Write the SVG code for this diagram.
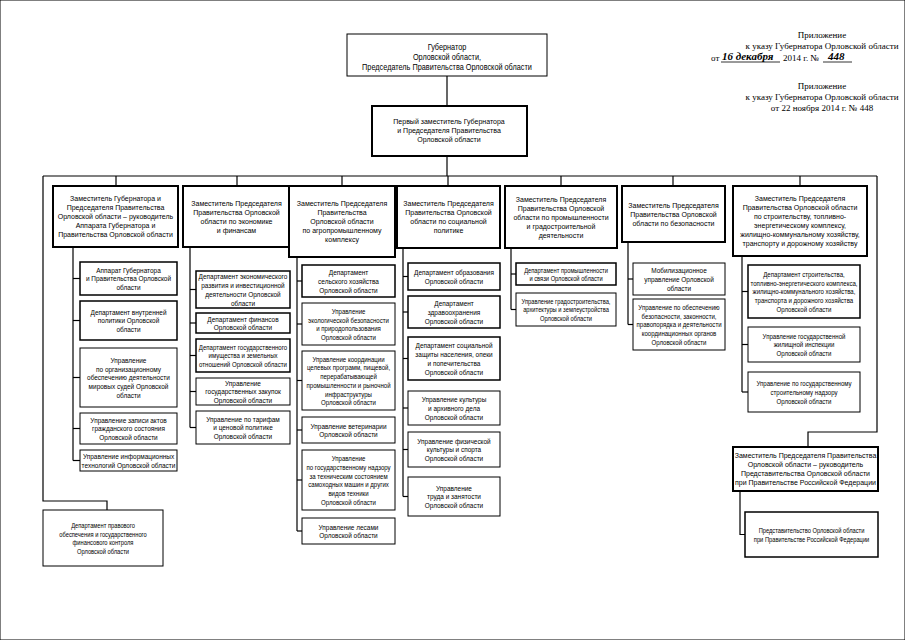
<svg xmlns="http://www.w3.org/2000/svg" width="905" height="640" viewBox="0 0 905 640">
<style>
text{font-family:"Liberation Sans",Arial,sans-serif;font-size:7.6px;fill:#000;text-anchor:middle;transform-box:fill-box;transform-origin:center;transform:scaleX(0.85)}
.hd text{font-size:7.8px;transform:scaleX(0.9)}
.gv text{font-size:8.6px;transform:scaleX(0.85)}
.sm text{font-size:7.2px;transform:scaleX(0.8)}
.n8 text{transform:scaleX(0.8)}
#appendix text{font-family:"Liberation Serif","Times New Roman",serif;font-size:9px;transform:none}
#appendix .hw{font-style:italic;font-weight:bold;font-size:11px;text-anchor:start}
#appendix .st{text-anchor:start}
rect{fill:#fff;stroke:#000}
.hd rect{stroke-width:2}
.d rect{stroke-width:1.5}
.u rect{stroke-width:1}
#connectors line,#connectors polyline{stroke:#000;stroke-width:1.2;fill:none}
</style>
<rect width="905" height="640" fill="#fff" stroke="none"/>
<g id="appendix">
<text x="822" y="38">Приложение</text>
<text x="822" y="49">к указу Губернатора Орловской области</text>
<text class="st" x="711" y="61">от</text>
<line x1="721" y1="62" x2="780" y2="62" stroke="#000" stroke-width="0.8"/>
<text class="hw" x="722" y="60">16 декабря</text>
<text class="st" x="783" y="61">2014 г. №</text>
<line x1="823" y1="62" x2="852" y2="62" stroke="#000" stroke-width="0.8"/>
<text class="hw" x="828" y="60">448</text>
<text x="822" y="89">Приложение</text>
<text x="822" y="100">к указу Губернатора Орловской области</text>
<text x="822" y="111">от 22 ноября 2014 г. № 448</text>
</g>
<g id="connectors">
<line x1="447" y1="76" x2="447" y2="106"/>
<line x1="447" y1="156" x2="447" y2="176"/>
<line x1="43" y1="176" x2="877" y2="176"/>
<line x1="116" y1="176" x2="116" y2="186"/>
<line x1="237" y1="176" x2="237" y2="186"/>
<line x1="342" y1="176" x2="342" y2="186"/>
<line x1="448" y1="176" x2="448" y2="186"/>
<line x1="561" y1="176" x2="561" y2="186"/>
<line x1="673" y1="176" x2="673" y2="186"/>
<line x1="800" y1="176" x2="800" y2="186"/>
<polyline points="877,176 877,432 808,432 808,447"/>
<polyline points="43,176 43,501 107,501 107,510"/>
<line x1="73" y1="247" x2="73" y2="460.5"/>
<line x1="73" y1="278.5" x2="80" y2="278.5"/>
<line x1="73" y1="320.5" x2="80" y2="320.5"/>
<line x1="73" y1="377.5" x2="80" y2="377.5"/>
<line x1="73" y1="428.5" x2="80" y2="428.5"/>
<line x1="73" y1="460.5" x2="80" y2="460.5"/>
<line x1="190" y1="247" x2="190" y2="427.5"/>
<line x1="190" y1="289.5" x2="196" y2="289.5"/>
<line x1="190" y1="323" x2="196" y2="323"/>
<line x1="190" y1="355.5" x2="196" y2="355.5"/>
<line x1="190" y1="391.5" x2="196" y2="391.5"/>
<line x1="190" y1="427.5" x2="196" y2="427.5"/>
<line x1="297" y1="257" x2="297" y2="531"/>
<line x1="297" y1="281" x2="302" y2="281"/>
<line x1="297" y1="324" x2="302" y2="324"/>
<line x1="297" y1="380.5" x2="302" y2="380.5"/>
<line x1="297" y1="430" x2="302" y2="430"/>
<line x1="297" y1="480" x2="302" y2="480"/>
<line x1="297" y1="531" x2="302" y2="531"/>
<line x1="403" y1="248" x2="403" y2="496.5"/>
<line x1="403" y1="276.5" x2="408" y2="276.5"/>
<line x1="403" y1="312" x2="408" y2="312"/>
<line x1="403" y1="358.5" x2="408" y2="358.5"/>
<line x1="403" y1="408" x2="408" y2="408"/>
<line x1="403" y1="449.5" x2="408" y2="449.5"/>
<line x1="403" y1="496.5" x2="408" y2="496.5"/>
<line x1="511" y1="248" x2="511" y2="309.5"/>
<line x1="511" y1="274" x2="516" y2="274"/>
<line x1="511" y1="309.5" x2="516" y2="309.5"/>
<line x1="628" y1="242" x2="628" y2="324.5"/>
<line x1="628" y1="279" x2="633" y2="279"/>
<line x1="628" y1="324.5" x2="633" y2="324.5"/>
<line x1="742" y1="256" x2="742" y2="392"/>
<line x1="742" y1="291.5" x2="748" y2="291.5"/>
<line x1="742" y1="344.5" x2="748" y2="344.5"/>
<line x1="742" y1="392" x2="748" y2="392"/>
<polyline points="740,491 740,534.5 745,534.5"/>
</g>
<g id="governor" class="u gv">
<rect x="347" y="34" width="200" height="42"/>
<text x="447" y="50">Губернатор</text>
<text x="447" y="60">Орловской области,</text>
<text x="447" y="70">Председатель Правительства Орловской области</text>
</g>
<g id="first-deputy" class="hd">
<rect x="372" y="106" width="155" height="50"/>
<text x="449" y="124">Первый заместитель Губернатора</text>
<text x="449" y="133">и Председателя Правительства</text>
<text x="449" y="142">Орловской области</text>
</g>
<g id="col1-head" class="hd">
<rect x="53" y="186" width="125" height="61"/>
<text x="115.5" y="201.5">Заместитель Губернатора и</text>
<text x="115.5" y="210.5">Председателя Правительства</text>
<text x="115.5" y="219.5">Орловской области – руководитель</text>
<text x="115.5" y="228.5">Аппарата Губернатора и</text>
<text x="115.5" y="237.5">Правительства Орловской области</text>
</g>
<g id="col1-a" class="d"><rect x="80" y="262" width="97" height="33"/>
<text x="128.5" y="272.8">Аппарат Губернатора</text><text x="128.5" y="281.5">и Правительства Орловской</text><text x="128.5" y="290.2">области</text></g>
<g id="col1-b" class="d"><rect x="80" y="301" width="97" height="39"/>
<text x="128.5" y="314.8">Департамент внутренней</text><text x="128.5" y="323.5">политики Орловской</text><text x="128.5" y="332.2">области</text></g>
<g id="col1-c" class="u"><rect x="80" y="348" width="97" height="59"/>
<text x="128.5" y="363.1">Управление</text><text x="128.5" y="371.8">по организационному</text><text x="128.5" y="380.5">обеспечению деятельности</text><text x="128.5" y="389.2">мировых судей Орловской</text><text x="128.5" y="397.9">области</text></g>
<g id="col1-d" class="u"><rect x="80" y="413" width="97" height="31"/>
<text x="128.5" y="422.8">Управление записи актов</text><text x="128.5" y="431.5">гражданского состояния</text><text x="128.5" y="440.2">Орловской области</text></g>
<g id="col1-e" class="u"><rect x="80" y="450" width="97" height="21"/>
<text x="128.5" y="459.15">Управление информационных</text><text x="128.5" y="467.85">технологий Орловской области</text></g>
<g id="col2-head" class="hd">
<rect x="183" y="186" width="107" height="61"/>
<text x="236.5" y="206">Заместитель Председателя</text>
<text x="236.5" y="215">Правительства Орловской</text>
<text x="236.5" y="224">области по экономике</text>
<text x="236.5" y="233">и финансам</text>
</g>
<g id="col2-a" class="d"><rect x="196" y="271" width="94" height="37"/>
<text x="243" y="279.45">Департамент экономического</text><text x="243" y="288.15">развития и инвестиционной</text><text x="243" y="296.85">деятельности Орловской</text><text x="243" y="305.55">области</text></g>
<g id="col2-b" class="d"><rect x="196" y="313" width="94" height="20"/>
<text x="243" y="321.65">Департамент финансов</text><text x="243" y="330.35">Орловской области</text></g>
<g id="col2-c" class="d n8"><rect x="196" y="339" width="94" height="33"/>
<text x="243" y="349.8">Департамент государственного</text><text x="243" y="358.5">имущества и земельных</text><text x="243" y="367.2">отношений Орловской области</text></g>
<g id="col2-d" class="u"><rect x="196" y="378" width="94" height="27"/>
<text x="243" y="385.8">Управление</text><text x="243" y="394.5">государственных закупок</text><text x="243" y="403.2">Орловской области</text></g>
<g id="col2-e" class="u"><rect x="196" y="411" width="94" height="33"/>
<text x="243" y="421.8">Управление по тарифам</text><text x="243" y="430.5">и ценовой политике</text><text x="243" y="439.2">Орловской области</text></g>
<g id="col3-head" class="hd">
<rect x="289" y="186" width="106" height="71"/>
<text x="342" y="206.5">Заместитель Председателя</text>
<text x="342" y="215.5">Правительства</text>
<text x="342" y="224.5">Орловской области</text>
<text x="342" y="233.5">по агропромышленному</text>
<text x="342" y="242.5">комплексу</text>
</g>
<g id="col3-a" class="d"><rect x="302" y="265" width="93" height="32"/>
<text x="348.5" y="275.3">Департамент</text><text x="348.5" y="284">сельского хозяйства</text><text x="348.5" y="292.7">Орловской области</text></g>
<g id="col3-b" class="u n8"><rect x="302" y="303" width="93" height="42"/>
<text x="348.5" y="313.95">Управление</text><text x="348.5" y="322.65">экологической безопасности</text><text x="348.5" y="331.35">и природопользования</text><text x="348.5" y="340.05">Орловской области</text></g>
<g id="col3-c" class="u n8"><rect x="302" y="351" width="93" height="59"/>
<text x="348.5" y="361.75">Управление координации</text><text x="348.5" y="370.45">целевых программ, пищевой,</text><text x="348.5" y="379.15">перерабатывающей</text><text x="348.5" y="387.85">промышленности и рыночной</text><text x="348.5" y="396.55">инфраструктуры</text><text x="348.5" y="405.25">Орловской области</text></g>
<g id="col3-d" class="u"><rect x="302" y="417" width="93" height="26"/>
<text x="348.5" y="428.65">Управление ветеринарии</text><text x="348.5" y="437.35">Орловской области</text></g>
<g id="col3-e" class="u n8"><rect x="302" y="450" width="93" height="60"/>
<text x="348.5" y="461.25">Управление</text><text x="348.5" y="469.95">по государственному надзору</text><text x="348.5" y="478.65">за техническим состоянием</text><text x="348.5" y="487.35">самоходных машин и других</text><text x="348.5" y="496.05">видов техники</text><text x="348.5" y="504.75">Орловской области</text></g>
<g id="col3-f" class="u"><rect x="302" y="518" width="93" height="26"/>
<text x="348.5" y="529.65">Управление лесами</text><text x="348.5" y="538.35">Орловской области</text></g>
<g id="col4-head" class="hd">
<rect x="397" y="186" width="103" height="62"/>
<text x="448.5" y="206.5">Заместитель Председателя</text>
<text x="448.5" y="215.5">Правительства Орловской</text>
<text x="448.5" y="224.5">области по социальной</text>
<text x="448.5" y="233.5">политике</text>
</g>
<g id="col4-a" class="d"><rect x="408" y="263" width="92" height="27"/>
<text x="454" y="275.15">Департамент образования</text><text x="454" y="283.85">Орловской области</text></g>
<g id="col4-b" class="d"><rect x="408" y="296" width="92" height="32"/>
<text x="454" y="306.3">Департамент</text><text x="454" y="315">здравоохранения</text><text x="454" y="323.7">Орловской области</text></g>
<g id="col4-c" class="d"><rect x="408" y="337" width="92" height="43"/>
<text x="454" y="348.45">Департамент социальной</text><text x="454" y="357.15">защиты населения, опеки</text><text x="454" y="365.85">и попечительства</text><text x="454" y="374.55">Орловской области</text></g>
<g id="col4-d" class="u"><rect x="408" y="391" width="92" height="34"/>
<text x="454" y="402.3">Управление культуры</text><text x="454" y="411">и архивного дела</text><text x="454" y="419.7">Орловской области</text></g>
<g id="col4-e" class="u"><rect x="408" y="432" width="92" height="35"/>
<text x="454" y="443.8">Управление физической</text><text x="454" y="452.5">культуры и спорта</text><text x="454" y="461.2">Орловской области</text></g>
<g id="col4-f" class="u"><rect x="408" y="477" width="92" height="39"/>
<text x="454" y="490.8">Управление</text><text x="454" y="499.5">труда и занятости</text><text x="454" y="508.2">Орловской области</text></g>
<g id="col5-head" class="hd">
<rect x="505" y="186" width="112" height="62"/>
<text x="561" y="202">Заместитель  Председателя</text>
<text x="561" y="211">Правительства Орловской</text>
<text x="561" y="220">области по промышленности</text>
<text x="561" y="229">и градостроительной</text>
<text x="561" y="238">деятельности</text>
</g>
<g id="col5-a" class="d sm"><rect x="516" y="263" width="100" height="22"/>
<text x="566" y="272.65">Департамент промышленности</text><text x="566" y="281.35">и связи Орловской области</text></g>
<g id="col5-b" class="u sm"><rect x="516" y="293" width="100" height="33"/>
<text x="566" y="303.8">Управление градостроительства,</text><text x="566" y="312.5">архитектуры и землеустройства</text><text x="566" y="321.2">Орловской области</text></g>
<g id="col6-head" class="hd">
<rect x="622" y="186" width="103" height="56"/>
<text x="673.5" y="208">Заместитель Председателя</text>
<text x="673.5" y="217">Правительства Орловской</text>
<text x="673.5" y="226">области по безопасности</text>
</g>
<g id="col6-a" class="u"><rect x="633" y="263" width="92" height="32"/>
<text x="679" y="273.3">Мобилизационное</text><text x="679" y="282">управление Орловской</text><text x="679" y="290.7">области</text></g>
<g id="col6-b" class="u n8"><rect x="633" y="299" width="92" height="51"/>
<text x="679" y="310.1">Управление по обеспечению</text><text x="679" y="318.8">безопасности, законности,</text><text x="679" y="327.5">правопорядка и деятельности</text><text x="679" y="336.2">координационных органов</text><text x="679" y="344.9">Орловской области</text></g>
<g id="col7-head" class="hd">
<rect x="733" y="186" width="134" height="70"/>
<text x="800" y="201.5">Заместитель Председателя</text>
<text x="800" y="210.5">Правительства Орловской области</text>
<text x="800" y="219.5">по строительству, топливно-</text>
<text x="800" y="228.5">энергетическому комплексу,</text>
<text x="800" y="237.5">жилищно-коммунальному хозяйству,</text>
<text x="800" y="246.5">транспорту и дорожному хозяйству</text>
</g>
<g id="col7-a" class="d n8"><rect x="748" y="265" width="112" height="53"/>
<text x="804" y="277.1">Департамент строительства,</text><text x="804" y="285.8">топливно-энергетического комплекса,</text><text x="804" y="294.5">жилищно-коммунального хозяйства,</text><text x="804" y="303.2">транспорта и дорожного хозяйства</text><text x="804" y="311.9">Орловской области</text></g>
<g id="col7-b" class="u n8"><rect x="748" y="327" width="112" height="35"/>
<text x="804" y="338.8">Управление государственной</text><text x="804" y="347.5">жилищной инспекции</text><text x="804" y="356.2">Орловской области</text></g>
<g id="col7-c" class="u n8"><rect x="748" y="372" width="112" height="40"/>
<text x="804" y="386.3">Управление по государственному</text><text x="804" y="395">строительному надзору</text><text x="804" y="403.7">Орловской области</text></g>
<g id="rep-head" class="hd">
<rect x="733" y="447" width="145" height="44"/>
<text x="805.5" y="458.5">Заместитель Председателя Правительства</text>
<text x="805.5" y="467.5">Орловской области – руководитель</text>
<text x="805.5" y="476.5">Представительства Орловской области</text>
<text x="805.5" y="485.5">при Правительстве Российской Федерации</text>
</g>
<g id="rep-office" class="d sm"><rect x="745" y="512" width="133" height="45"/>
<text x="811.5" y="533.15">Представительство Орловской области</text><text x="811.5" y="541.85">при Правительстве Российской Федерации</text></g>
<g id="legal-dept" class="u sm"><rect x="43" y="510" width="120" height="56"/>
<text x="103" y="527.95">Департамент правового</text><text x="103" y="536.65">обеспечения и государственного</text><text x="103" y="545.35">финансового контроля</text><text x="103" y="554.05">Орловской области</text></g>
</svg>
